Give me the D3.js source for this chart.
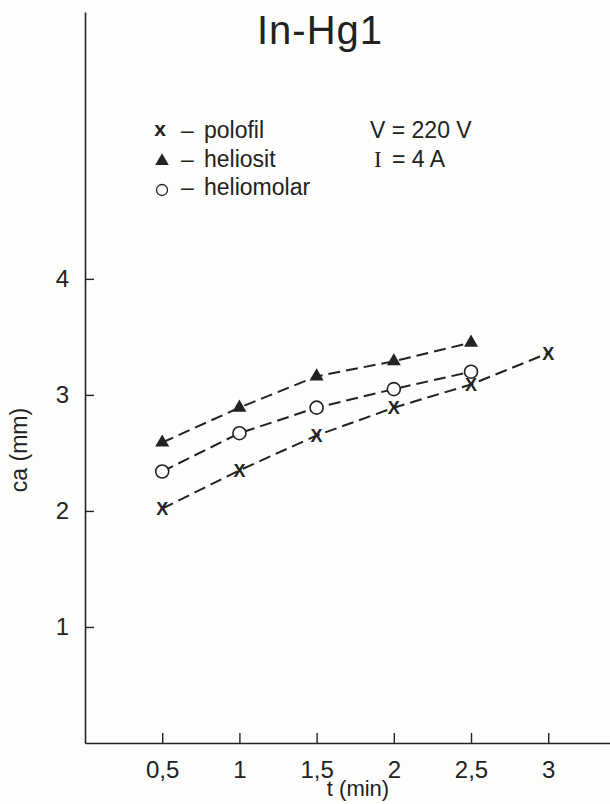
<!DOCTYPE html>
<html>
<head>
<meta charset="utf-8">
<script src="https://cdn.jsdelivr.net/npm/d3@7"></script>
<style>
  html, body { margin: 0; padding: 0; background: #fdfdfc; }
  svg { display: block; font-family: "Liberation Sans", Arial, sans-serif; }
</style>
</head>
<body>
<div id="chart"></div>
<script>
// values
var times = [0.5, 1, 1.5, 2, 2.5, 3];
var polofil = [2.02, 2.35, 2.65, 2.89, 3.09, 3.36];
var heliosit = [2.59, 2.89, 3.16, 3.29, 3.45];
var heliomolar = [2.34, 2.67, 2.89, 3.05, 3.20];
var xTickValues = [0.5, 1, 1.5, 2, 2.5, 3];
var yTickValues = [1, 2, 3, 4];

var ink = "#222";
var width = 610, height = 804;

var svg = d3.select("#chart").append("svg")
    .attr("width", width)
    .attr("height", height);

var x = d3.scaleLinear().domain([0, 3.4]).range([85, 610]);
var y = d3.scaleLinear().domain([0, 6.3]).range([743, 12]);

// axes, ticks point inward
var gx = svg.append("g")
    .attr("transform", "translate(0," + y(0) + ")")
    .call(d3.axisBottom(x)
        .tickValues(xTickValues)
        .tickSizeInner(-10).tickSizeOuter(0).tickPadding(18)
        .tickFormat(function(d) { return String(d).replace(".", ","); }));

var gy = svg.append("g")
    .attr("transform", "translate(" + x(0) + ",0)")
    .call(d3.axisLeft(y)
        .tickValues(yTickValues)
        .tickSizeInner(-9).tickSizeOuter(0).tickPadding(16)
        .tickFormat(d3.format("d")));

[gx, gy].forEach(function(g) {
  g.select(".domain").attr("stroke", ink).attr("stroke-width", 1.6);
  g.selectAll(".tick line").attr("stroke", ink).attr("stroke-width", 1.4);
  g.selectAll(".tick text").attr("fill", ink)
    .style("font-size", "24px").style("font-family", "Liberation Sans, Arial, sans-serif");
});

// axis titles
svg.append("text")
    .attr("x", 358).attr("y", 796)
    .attr("text-anchor", "middle")
    .attr("fill", ink).style("font-size", "22px")
    .text("t (min)");

svg.append("text")
    .attr("transform", "translate(27,450) rotate(-90)")
    .attr("text-anchor", "middle")
    .attr("fill", ink).style("font-size", "23px")
    .text("ca (mm)");

// title
svg.append("text")
    .attr("x", 320).attr("y", 44)
    .attr("text-anchor", "middle")
    .attr("fill", ink).style("font-size", "40px")
    .style("letter-spacing", "1px")
    .text("In-Hg1");

// dashed lines
var line = d3.line()
    .x(function(d, i) { return x(times[i]); })
    .y(function(d) { return y(d); });

[polofil, heliosit, heliomolar].forEach(function(s) {
  svg.append("path")
      .datum(s)
      .attr("d", line)
      .attr("fill", "none")
      .attr("stroke", ink)
      .attr("stroke-width", 2)
      .attr("stroke-dasharray", "12,6");
});

// markers
svg.selectAll(".tri")
    .data(heliosit)
    .enter().append("path")
    .attr("class", "tri")
    .attr("transform", function(d, i) { return "translate(" + x(times[i]) + "," + y(d) + ")"; })
    .attr("d", d3.symbol().type(d3.symbolTriangle).size(85))
    .attr("fill", ink);

svg.selectAll(".circ")
    .data(heliomolar)
    .enter().append("circle")
    .attr("class", "circ")
    .attr("cx", function(d, i) { return x(times[i]); })
    .attr("cy", function(d) { return y(d); })
    .attr("r", 6.5)
    .attr("fill", "#fff")
    .attr("stroke", ink)
    .attr("stroke-width", 1.6);

svg.selectAll(".cross")
    .data(polofil)
    .enter().append("text")
    .attr("class", "cross")
    .attr("x", function(d, i) { return x(times[i]); })
    .attr("y", function(d) { return y(d) + 6.5; })
    .attr("text-anchor", "middle")
    .attr("fill", ink)
    .style("font-size", "18px").style("font-weight", "bold")
    .text("X");

// legend
var legend = svg.append("g").attr("fill", ink).style("font-size", "23px");
var rows = ["polofil", "heliosit", "heliomolar"];
rows.forEach(function(name, i) {
  var by = 138 + i * 28.5;
  legend.append("text").attr("x", 181).attr("y", by).text("\u2013");
  legend.append("text").attr("x", 204).attr("y", by).text(name);
});
legend.append("text").attr("x", 160).attr("y", 136)
    .attr("text-anchor", "middle").style("font-weight", "bold").style("font-size", "21px").text("x");
legend.append("path")
    .attr("transform", "translate(162,161)")
    .attr("d", d3.symbol().type(d3.symbolTriangle).size(80));
legend.append("circle")
    .attr("cx", 162).attr("cy", 190).attr("r", 5.5)
    .attr("fill", "none").attr("stroke", ink).attr("stroke-width", 1.3);

legend.append("text").attr("x", 370).attr("y", 138).text("V = 220 V");
var it = legend.append("text").attr("x", 374).attr("y", 166.5);
it.append("tspan").style("font-family", "Liberation Serif, serif").text("I");
it.append("tspan").attr("x", 392).text("= 4 A");
</script>
</body>
</html>
